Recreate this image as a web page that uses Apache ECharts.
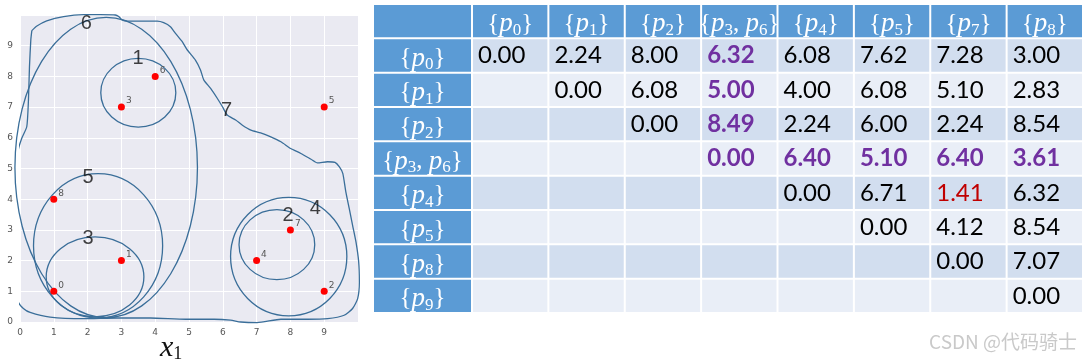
<!DOCTYPE html>
<html><head><meta charset="utf-8">
<script src="https://cdn.jsdelivr.net/npm/echarts@6/dist/echarts.min.js"></script>
<style>html,body{margin:0;padding:0;background:#fff}#c{width:1088px;height:361px}</style>
</head><body><div id="c"></div>
<script>
// ---------- scatter data ----------
const pointIds = ['0','1','2','3','4','5','6','7','8'];
const pointX = [1, 3, 9, 3, 7, 9, 4, 8, 1];
const pointY = [1, 2, 1, 7, 2, 7, 8, 3, 4];
const axisTicks = [0,1,2,3,4,5,6,7,8,9];
const xAxisTitle = '{x|x}{s|1}';

// cluster ellipses (data units)
const clusterNames = ['1','2','3','4','5','6'];
const clusterCx = [3.50, 7.60, 2.22, 7.95, 2.31, 2.55];
const clusterCy = [7.47, 2.52, 1.47, 2.13, 2.48, 5.03];
const clusterRx = [1.11, 1.12, 1.445, 1.72, 1.91, 2.70];
const clusterRy = [1.12, 1.14, 1.30, 1.93, 2.35, 4.89];

// cluster number labels
const clusterLabelNames = ['1','2','3','4','5','6','7'];
const clusterLabelX = [3.49, 7.93, 2.01, 8.74, 2.01, 1.96, 6.11];
const clusterLabelY = [8.59, 3.48, 2.72, 3.70, 4.71, 9.73, 6.88];

// hand-drawn outline of cluster 7
const outlineX = [0.35,0.50,0.79,1.29,1.88,2.37,2.82,2.92,3.02,3.17,4.06,4.25,4.45,4.60,4.80,4.95,5.19,5.34,5.44,5.64,5.84,5.99,6.13,6.38,6.58,6.83,7.12,7.42,7.72,8.01,8.31,8.61,8.80,9.10,9.32,9.45,9.55,9.64,9.74,9.84,9.94,10.02,10.04,9.99,9.84,9.59,9.10,8.51,7.72,7.02,6.53,6.23,5.74,4.90,3.86,2.87,1.88,0.89,0.30,0.10,-0.05,-0.12,-0.15,-0.18,-0.15,-0.10,-0.08,-0.06,-0.08,-0.05,0.05,0.20,0.25,0.28,0.32,0.35];
const outlineY = [9.49,9.64,9.81,9.95,10.01,10.01,10.0,9.95,9.84,9.80,9.80,9.75,9.62,9.40,9.13,8.86,8.53,8.21,7.88,7.61,7.28,7.01,6.74,6.58,6.41,6.25,6.16,6.03,5.87,5.65,5.49,5.30,5.18,5.22,5.20,5.05,4.84,4.24,3.70,3.15,2.61,1.96,1.30,0.76,0.44,0.22,0.11,0.09,0.09,-0.02,0.0,0.06,0.09,0.09,0.13,0.13,0.11,0.16,0.31,0.44,0.65,1.09,1.74,2.39,2.83,3.26,3.70,4.13,4.62,5.60,5.98,6.36,7.23,8.31,9.19,9.49];

// ---------- table data ----------
const colSubs = [['0'],['1'],['2'],['3','6'],['4'],['5'],['7'],['8']];
const rowSubs = [['0'],['1'],['2'],['3','6'],['4'],['5'],['8'],['9']];
const dist = [
  [0.00, 2.24, 8.00, 6.32, 6.08, 7.62, 7.28, 3.00],
  [null, 0.00, 6.08, 5.00, 4.00, 6.08, 5.10, 2.83],
  [null, null, 0.00, 8.49, 2.24, 6.00, 2.24, 8.54],
  [null, null, null, 0.00, 6.40, 5.10, 6.40, 3.61],
  [null, null, null, null, 0.00, 6.71, 1.41, 6.32],
  [null, null, null, null, null, 0.00, 4.12, 8.54],
  [null, null, null, null, null, null, 0.00, 7.07],
  [null, null, null, null, null, null, null, 0.00]
];
const mergedIndex = 3;      // merged cluster {p3,p6}
const minCell = [4, 6];     // smallest distance

const watermark = 'CSDN @代码骑士';

// ---------- build ----------
const BLUE = '#5B9BD5', DARK = '#D2DEEF', LIGHT = '#E9EEF7';
const LINE = '#3A6E99';
const mathRich = {
  p: {fontFamily: 'Liberation Serif', fontStyle: 'italic', fontSize: 27, lineHeight: 30, fill: '#fff', verticalAlign: 'middle'},
  s: {fontFamily: 'Liberation Serif', fontSize: 17, lineHeight: 15, fill: '#fff', verticalAlign: 'bottom'}
};

const rowKeys = ['h'].concat(rowSubs.map((s, i) => 'r' + i));
const colKeys = colSubs.map((s, i) => 'c' + i);

const labelCells = [];
labelCells.push({value: [0, 0], kind: 'hblank'});
rowSubs.forEach((s, i) => labelCells.push({value: [0, i + 1], kind: 'rowlabel', subs: s}));

const bodyCells = [];
colSubs.forEach((s, j) => bodyCells.push({value: [j, 0], kind: 'header', subs: s}));
dist.forEach((row, i) => row.forEach((v, j) => {
  let color = '#000', bold = false;
  if (v !== null && (i === mergedIndex || j === mergedIndex)) { color = '#7030A0'; bold = true; }
  if (i === minCell[0] && j === minCell[1]) { color = '#C00000'; }
  bodyCells.push({value: [j, i + 1], kind: 'num', v: v, row: i, color: color, bold: bold});
}));

function cellRender(cells) {
  return function (params, api) {
    const d = cells[params.dataIndex];
    const c = api.coord([api.value(0), api.value(1)]);
    const sz = api.size([1, 1]);
    const x0 = c[0] - sz[0] / 2, y0 = c[1] - sz[1] / 2;
    let fill;
    if (d.kind === 'num') fill = (d.row % 2 === 0) ? DARK : LIGHT; else fill = BLUE;
    const children = [{type: 'rect', shape: {x: x0 + 1, y: y0 + 1, width: sz[0] - 2, height: sz[1] - 2}, style: {fill: fill}}];
    if (d.kind === 'header' || d.kind === 'rowlabel') {
      const txt = '{' + d.subs.map(s => '{p|p}{s|' + s + '}').join(', ') + '}';
      children.push({type: 'text', x: c[0], y: c[1] + 3,
        style: {text: txt, rich: mathRich, align: 'center', verticalAlign: 'middle', fill: '#fff',
          fontFamily: 'Liberation Serif', fontSize: 25, lineHeight: 30}});
    } else if (d.kind === 'num' && d.v !== null) {
      children.push({type: 'text', x: x0 + 6, y: c[1],
        style: {text: d.v.toFixed(2), fill: d.color, fontFamily: 'Lato', fontSize: 24,
          fontWeight: d.bold ? 'bold' : 'normal', align: 'left', verticalAlign: 'middle'}});
    }
    return {type: 'group', children: children};
  };
}

const ellipseData = clusterNames.map((n, i) => [clusterCx[i], clusterCy[i], clusterRx[i], clusterRy[i]]);

const axisCommon = {
  type: 'value', min: 0, max: 10, interval: 1,
  axisLine: {show: false}, axisTick: {show: false},
  splitLine: {show: true, lineStyle: {color: '#ffffff', width: 1}},
  axisLabel: {color: '#555', fontSize: 9, fontFamily: 'DejaVu Sans',
    formatter: v => axisTicks.indexOf(v) >= 0 ? String(v) : ''}
};

const option = {
  animation: false,
  backgroundColor: '#ffffff',
  title: [
    {text: watermark, right: 6, bottom: 5,
      textStyle: {color: '#c9c9c9', fontSize: 19, fontWeight: 'normal', fontFamily: 'Noto Sans CJK SC'}},
    {text: xAxisTitle, left: 160, top: 333, padding: 0,
      textStyle: {fontWeight: 'normal', rich: {
        x: {fontFamily: 'Liberation Serif', fontStyle: 'italic', fontWeight: 'normal', fontSize: 30, lineHeight: 30, color: '#111', verticalAlign: 'middle'},
        s: {fontFamily: 'Liberation Serif', fontWeight: 'normal', fontSize: 18, lineHeight: 12, color: '#111', verticalAlign: 'bottom'}}}}
  ],
  grid: [
    {left: 20, top: 15, width: 338, height: 307, show: true, backgroundColor: '#EAEAF2', borderWidth: 0, outerBoundsMode: 'none', containLabel: false},
    {left: 373, top: 4, width: 99, height: 309, outerBoundsMode: 'none'},
    {left: 472, top: 4, width: 611, height: 309, outerBoundsMode: 'none'}
  ],
  xAxis: [
    Object.assign({}, axisCommon, {gridIndex: 0, axisLabel: Object.assign({}, axisCommon.axisLabel, {margin: 6})}),
    {type: 'category', gridIndex: 1, data: ['l'], show: false},
    {type: 'category', gridIndex: 2, data: colKeys, show: false}
  ],
  yAxis: [
    Object.assign({}, axisCommon, {gridIndex: 0, axisLabel: Object.assign({}, axisCommon.axisLabel, {margin: 7})}),
    {type: 'category', gridIndex: 1, data: rowKeys, inverse: true, show: false},
    {type: 'category', gridIndex: 2, data: rowKeys, inverse: true, show: false}
  ],
  series: [
    {type: 'line', xAxisIndex: 0, yAxisIndex: 0, data: outlineX.map((x, i) => [x, outlineY[i]]),
      showSymbol: false, symbol: 'none', smooth: 0.2, clip: false,
      lineStyle: {color: LINE, width: 1.3}, z: 3},
    {type: 'custom', xAxisIndex: 0, yAxisIndex: 0, data: ellipseData, clip: false, z: 3,
      renderItem: function (params, api) {
        const c = api.coord([api.value(0), api.value(1)]);
        const s = api.size([api.value(2), api.value(3)]);
        return {type: 'ellipse', shape: {cx: c[0], cy: c[1], rx: s[0], ry: s[1]},
          style: {fill: 'none', stroke: LINE, lineWidth: 1.3}};
      }},
    {type: 'scatter', xAxisIndex: 0, yAxisIndex: 0, symbolSize: 7, itemStyle: {color: '#ff0000', opacity: 1}, z: 5,
      data: pointIds.map((id, i) => ({name: id, value: [pointX[i], pointY[i]]})),
      label: {show: true, position: 'right', distance: 1, offset: [0, -6], formatter: '{b}',
        color: '#555', fontSize: 9, fontFamily: 'DejaVu Sans'}},
    {type: 'scatter', xAxisIndex: 0, yAxisIndex: 0, symbolSize: 0, z: 6,
      data: clusterLabelNames.map((n, i) => ({name: n, value: [clusterLabelX[i], clusterLabelY[i]]})),
      label: {show: true, position: 'inside', formatter: '{b}', color: '#111', fontSize: 20, fontFamily: 'Liberation Sans'}},
    {type: 'custom', xAxisIndex: 1, yAxisIndex: 1, data: labelCells, renderItem: cellRender(labelCells)},
    {type: 'custom', xAxisIndex: 2, yAxisIndex: 2, data: bodyCells, renderItem: cellRender(bodyCells)}
  ]
};
const chart = echarts.init(document.getElementById('c'), null, {renderer: 'canvas'});
chart.setOption(option);
</script></body></html>
